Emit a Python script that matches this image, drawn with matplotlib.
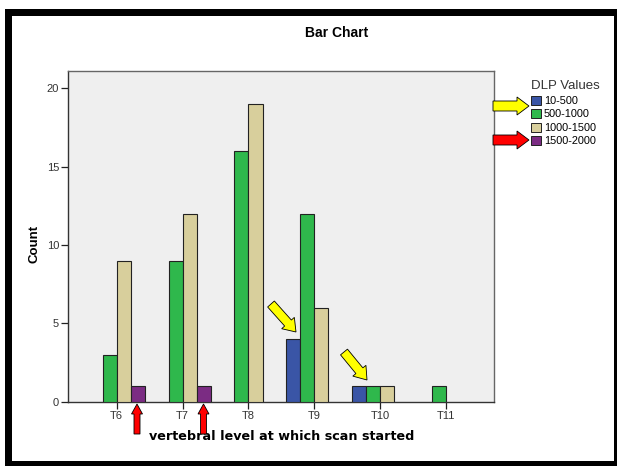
import matplotlib
matplotlib.use("Agg")
import matplotlib.pyplot as plt
import numpy as np
from matplotlib.patches import FancyArrow, Rectangle, Patch
from matplotlib.transforms import IdentityTransform

# data
levels = ['T6', 'T7', 'T8', 'T9', 'T10', 'T11']
dlp_groups = ['10-500', '500-1000', '1000-1500', '1500-2000']
count_10_500 = [0, 0, 0, 4, 1, 0]
count_500_1000 = [3, 9, 16, 12, 1, 1]
count_1000_1500 = [9, 12, 19, 6, 1, 0]
count_1500_2000 = [1, 1, 0, 0, 0, 0]
group_colors = ['#3a55a6', '#2fb84c', '#d8cf9c', '#7b2c83']

W, H = 617, 466
fig = plt.figure(figsize=(W / 100, H / 100), dpi=100)
fig.patch.set_facecolor('white')

# plot area (pixel box from the reference)
left, right, top, bottom = 68, 493.5, 71, 401.5
ax = fig.add_axes([left / W, 1 - bottom / H, (right - left) / W, (bottom - top) / H])
ax.set_facecolor('#efefef')

x = np.arange(len(levels))
bw = 0.213
series = [count_10_500, count_500_1000, count_1000_1500, count_1500_2000]
for k, (vals, col) in enumerate(zip(series, group_colors)):
    vals = np.array(vals)
    keep = vals > 0
    ax.bar(x[keep] + (k - 1.5) * bw, vals[keep], width=bw, color=col,
           edgecolor='#222222', linewidth=0.8, zorder=3)

ax.set_xlim(-0.74, 5.72)
ax.set_ylim(0, 21.1)
ax.set_yticks([0, 5, 10, 15, 20])
ax.set_xticks(x)
ax.set_xticklabels(levels)
ax.tick_params(axis='both', direction='out', length=5, width=0.9, colors='#222222',
               labelsize=8, labelcolor='#333333', pad=1.5)
for s in ax.spines.values():
    s.set_color('#666666')
    s.set_linewidth(1.0)
ax.spines['bottom'].set_color('#333333')
ax.spines['left'].set_color('#333333')
for lab in ax.get_xticklabels() + ax.get_yticklabels():
    lab.set_family('Liberation Sans')

# texts
fig.text(337 / W, 1 - 33 / H, 'Bar Chart', ha='center', va='center',
         fontsize=10, fontweight='bold', family='Liberation Sans')
fig.text(35 / W, 1 - 244 / H, 'Count', ha='center', va='center', rotation=90,
         fontsize=9.5, fontweight='bold', family='Liberation Sans')
fig.text(282 / W, 1 - 437 / H, 'vertebral level at which scan started', ha='center',
         va='center', fontsize=9.2, fontweight='bold', family='DejaVu Sans')

# legend
handles = [Patch(facecolor=c, edgecolor='#222222', linewidth=0.7) for c in group_colors]
leg = fig.legend(handles, dlp_groups, title='DLP Values', loc='upper left',
                 bbox_to_anchor=(527 / W, 1 - 76 / H), frameon=False,
                 handlelength=0.9, handleheight=0.9,
                 handletextpad=0.25, labelspacing=0.3, borderaxespad=0,
                 alignment='left', prop={'family': 'Liberation Sans', 'size': 7.8})
leg.get_title().set_family('Liberation Sans')
leg.get_title().set_fontsize(9.5)
leg.get_title().set_color('#333333')


def px_arrow(x0, y0, x1, y1, color, body, head_w, head_l):
    # arrow given in image pixels (origin top-left)
    a = FancyArrow(x0, H - y0, x1 - x0, -(y1 - y0), width=body, head_width=head_w,
                   head_length=head_l, length_includes_head=True,
                   facecolor=color, edgecolor='black', linewidth=0.6,
                   transform=IdentityTransform(), zorder=10)
    fig.patches.append(a)


# arrows pointing at the legend
px_arrow(493, 106, 529, 106, '#ffff00', 10, 18, 12)
px_arrow(493, 140, 529, 140, '#ff0000', 10, 18, 12)
# arrows pointing at blue bars
px_arrow(271, 304, 296, 332, '#ffff00', 9, 17, 12)
px_arrow(344, 352, 367, 380, '#ffff00', 9, 17, 12)
# arrows pointing at purple bars
px_arrow(137, 434, 137, 404, '#ff0000', 6, 11, 10)
px_arrow(203.5, 434, 203.5, 404, '#ff0000', 6, 11, 10)

# black frame around the whole picture
fig.patches.append(Rectangle((8, 2), 609, 452.5, fill=False, edgecolor='black',
                             linewidth=7 * 72 / 100, transform=IdentityTransform()))

fig.savefig('out.png', dpi=100)
